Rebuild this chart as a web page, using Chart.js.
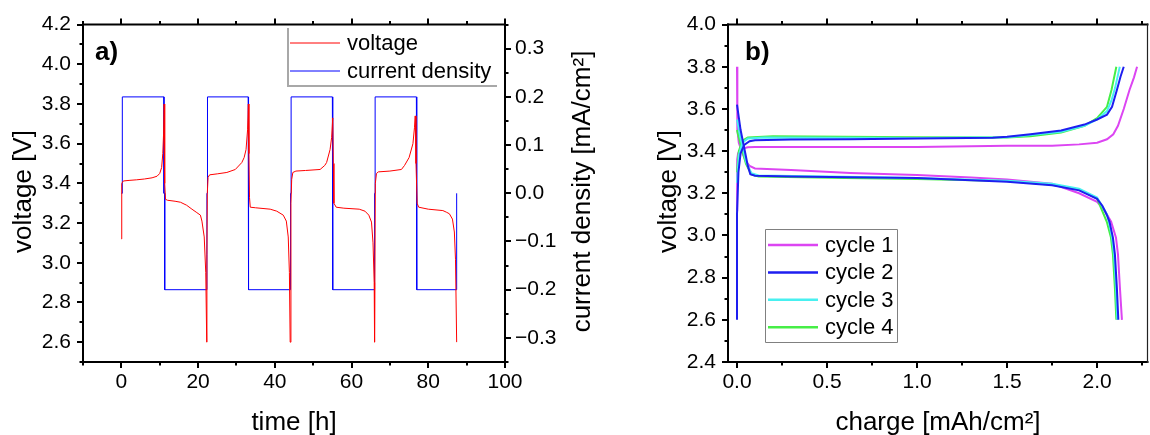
<!DOCTYPE html>
<html><head><meta charset="utf-8">
<script src="https://cdn.jsdelivr.net/npm/chart.js@4.4.1/dist/chart.umd.min.js"></script>
<style>
html,body{margin:0;padding:0;background:#fff;}
#wrap{position:relative;width:1150px;height:435px;overflow:hidden;background:#fff;}
canvas{position:absolute;top:0;}
#ca{left:0;width:600px;height:435px;}
#cb{left:600px;width:550px;height:435px;}
</style></head><body>
<div id="wrap"><canvas id="ca" width="600" height="435"></canvas><canvas id="cb" width="550" height="435"></canvas></div>
<script>
// ---------- Panel a data ----------
const timeTicks = [0, 20, 40, 60, 80, 100];
const voltageTicksA = [2.6, 2.8, 3.0, 3.2, 3.4, 3.6, 3.8, 4.0, 4.2];
const currentTicks = [-0.3, -0.2, -0.1, 0.0, 0.1, 0.2, 0.3];

const voltageTime = [
  0.0, 0.05, 0.15, 0.5, 2, 4, 6, 8, 9.3, 10.0, 10.5, 10.8, 11.0, 11.15,
  11.25, 11.35, 11.5, 12, 14, 15.4, 17, 18.4, 19.5, 20.6, 21.0, 21.6, 22.0, 22.25,
  22.3, 22.4, 22.6, 23, 25, 27.5, 29.7, 31.4, 32.0, 32.5, 32.9, 33.1,
  33.25, 33.4, 33.6, 35, 38.8, 40.5, 42.2, 43.0, 43.5, 43.8, 44.0,
  44.2, 44.4, 44.7, 45.5, 48, 51.8, 53.0, 53.5, 54.4, 54.8, 55.1,
  55.25, 55.4, 56, 58, 62, 63.5, 64.5, 65.2, 65.6, 65.9, 66.0,
  66.2, 66.5, 67, 70, 73, 73.8, 75, 76.0, 76.4, 76.6,
  76.8, 77.1, 77.5, 80, 83.8, 84.7, 85.5, 86.3, 86.8, 87.1, 87.4
];
const voltageValues = [
  3.12, 3.35, 3.40, 3.412, 3.415, 3.418, 3.422, 3.428, 3.436, 3.45, 3.48, 3.55, 3.65, 3.80,
  3.60, 3.40, 3.32, 3.315, 3.31, 3.305, 3.29, 3.27, 3.255, 3.24, 3.21, 3.13, 2.95, 2.60,
  3.04, 3.35, 3.43, 3.443, 3.448, 3.455, 3.47, 3.505, 3.53, 3.57, 3.67, 3.80,
  3.55, 3.33, 3.28, 3.277, 3.27, 3.26, 3.24, 3.21, 3.13, 2.95, 2.60,
  3.30, 3.42, 3.455, 3.462, 3.465, 3.47, 3.49, 3.505, 3.57, 3.63, 3.73,
  3.50, 3.30, 3.28, 3.275, 3.27, 3.26, 3.24, 3.205, 3.10, 2.90, 2.60,
  3.40, 3.45, 3.458, 3.462, 3.47, 3.49, 3.53, 3.60, 3.68, 3.74,
  3.50, 3.30, 3.28, 3.27, 3.263, 3.255, 3.247, 3.22, 3.155, 3.015, 2.60
];
const currentTime = [
  0, 0.25, 0.25, 11.1, 11.1, 11.3, 11.3, 22.3, 22.3, 22.45, 22.45,
  33.05, 33.05, 33.2, 33.2, 44.1, 44.1, 44.25, 44.25, 55.0, 55.0, 55.15, 55.15,
  66.0, 66.0, 66.15, 66.15, 76.9, 76.9, 77.05, 77.05, 87.4, 87.4
];
const currentValues = [
  0, 0, 0.2, 0.2, 0, 0, -0.2, -0.2, 0, 0, 0.2,
  0.2, 0, 0, -0.2, -0.2, 0, 0, 0.2, 0.2, 0, 0, -0.2,
  -0.2, 0, 0, 0.2, 0.2, 0, 0, -0.2, -0.2, 0
];
const legendA = ['voltage', 'current density'];

// ---------- Panel b data ----------
const chargeTicks = [0.0, 0.5, 1.0, 1.5, 2.0];
const voltageTicksB = [2.4, 2.6, 2.8, 3.0, 3.2, 3.4, 3.6, 3.8, 4.0];
const cycleLabels = ['cycle 1', 'cycle 2', 'cycle 3', 'cycle 4'];

const c1ChargeQ = [0, 0.001, 0.006, 0.02, 0.06, 0.1, 0.3, 0.6, 1.0, 1.5, 1.75, 1.9, 2.0, 2.055, 2.09, 2.116, 2.148, 2.18, 2.205, 2.222];
const c1ChargeV = [3.12, 3.36, 3.39, 3.41, 3.418, 3.42, 3.42, 3.42, 3.42, 3.425, 3.426, 3.432, 3.44, 3.456, 3.48, 3.52, 3.60, 3.69, 3.75, 3.80];
const c1DischargeQ = [0, 0.002, 0.01, 0.03, 0.05, 0.07, 0.1, 0.3, 0.63, 1.0, 1.3, 1.5, 1.75, 1.9, 2.0, 2.04, 2.078, 2.105, 2.116, 2.127, 2.138];
const c1DischargeV = [3.80, 3.50, 3.44, 3.39, 3.35, 3.33, 3.318, 3.31, 3.296, 3.287, 3.275, 3.265, 3.245, 3.20, 3.16, 3.12, 3.065, 2.99, 2.91, 2.75, 2.60];

const c2ChargeQ = [0, 0.0, 0.008, 0.02, 0.04, 0.07, 0.1, 0.3, 0.63, 1.0, 1.42, 1.5, 1.63, 1.8, 1.93, 2.0, 2.055, 2.083, 2.11, 2.13, 2.148];
const c2ChargeV = [2.60, 3.10, 3.30, 3.39, 3.43, 3.447, 3.452, 3.455, 3.456, 3.46, 3.464, 3.468, 3.48, 3.498, 3.526, 3.55, 3.573, 3.61, 3.69, 3.753, 3.80];
const c2DischargeQ = [0, 0.02, 0.046, 0.06, 0.074, 0.1, 0.3, 0.63, 1.0, 1.3, 1.5, 1.75, 1.9, 2.0, 2.03, 2.055, 2.069, 2.088, 2.099, 2.11, 2.118];
const c2DischargeV = [3.62, 3.50, 3.39, 3.33, 3.29, 3.283, 3.28, 3.276, 3.272, 3.262, 3.255, 3.238, 3.214, 3.174, 3.14, 3.096, 3.065, 2.99, 2.91, 2.75, 2.60];

const c3ChargeQ = [0, 0.01, 0.03, 0.06, 0.15, 0.6, 1.0, 1.5, 1.63, 1.8, 1.93, 2.0, 2.055, 2.08, 2.1, 2.126];
const c3ChargeV = [3.25, 3.38, 3.44, 3.46, 3.465, 3.463, 3.462, 3.466, 3.476, 3.492, 3.52, 3.55, 3.59, 3.64, 3.70, 3.80];
const c3DischargeQ = [0, 0.02, 0.05, 0.08, 0.12, 0.6, 1.0, 1.5, 1.75, 1.9, 2.0, 2.055, 2.065, 2.083, 2.094, 2.105, 2.112];
const c3DischargeV = [3.55, 3.46, 3.35, 3.295, 3.285, 3.278, 3.272, 3.26, 3.245, 3.222, 3.18, 3.10, 3.065, 2.99, 2.91, 2.75, 2.60];

const c4ChargeQ = [0, 0.01, 0.03, 0.06, 0.2, 0.6, 1.0, 1.5, 1.63, 1.8, 1.93, 2.0, 2.055, 2.08, 2.107];
const c4ChargeV = [3.30, 3.40, 3.45, 3.465, 3.47, 3.468, 3.466, 3.465, 3.47, 3.488, 3.52, 3.556, 3.61, 3.69, 3.80];
const c4DischargeQ = [0, 0.02, 0.05, 0.08, 0.12, 0.6, 1.0, 1.5, 1.75, 1.9, 2.0, 2.054, 2.077, 2.088, 2.099, 2.107];
const c4DischargeV = [3.50, 3.43, 3.34, 3.29, 3.28, 3.272, 3.268, 3.258, 3.24, 3.218, 3.175, 3.065, 2.99, 2.91, 2.75, 2.60];

// ---------- helpers ----------
const FONT = "'Liberation Sans', Arial, Helvetica, sans-serif";
const pts = (xs, ys) => xs.map((x, i) => ({x: x, y: ys[i]}));
const fmt1 = v => (Math.abs(v) < 1e-9 ? '0.0' : (v < 0 ? '\u2212' + (-v).toFixed(1) : v.toFixed(1)));
const tickFont = {family: FONT, size: 21};

function axis(pos, min, max, ticks, fitSize, pad, extra) {
  return Object.assign({
    type: 'linear', position: pos, min: min, max: max,
    grid: {display: false, drawTicks: false},
    border: {display: false},
    ticks: {font: tickFont, color: '#000', padding: pad, maxRotation: 0, autoSkip: false, callback: fmt1},
    afterBuildTicks: s => { s.ticks = ticks.map(v => ({value: v})); },
    afterFit: s => { if (pos === 'left' || pos === 'right') s.width = fitSize; else s.height = fitSize; }
  }, extra || {});
}

const deco = {
  id: 'deco',
  afterDraw(chart, args, o) {
    const ctx = chart.ctx, a = chart.chartArea;
    ctx.save();
    ctx.lineCap = 'butt';
    // tick marks
    o.ticks.forEach(t => {
      const s = chart.scales[t.scale];
      const majors = s.ticks.map(k => k.value);
      const step = majors[1] - majors[0];
      const minors = [];
      for (let v = majors[0] - step / 2; v <= s.max + 1e-9; v += step) if (v >= s.min - 1e-9) minors.push(v);
      ctx.strokeStyle = '#000'; ctx.lineWidth = 2;
      const draw = (v, len) => {
        const p = Math.round(s.getPixelForValue(v)) + 0.0;
        ctx.beginPath();
        if (t.side === 'left') { ctx.moveTo(a.left, p); ctx.lineTo(a.left - len, p); }
        else if (t.side === 'right') { ctx.moveTo(a.right, p); ctx.lineTo(a.right + len, p); }
        else if (t.side === 'bottom') { ctx.moveTo(p, a.bottom); ctx.lineTo(p, a.bottom + len); }
        else { ctx.moveTo(p, a.top); ctx.lineTo(p, a.top - len); }
        ctx.stroke();
      };
      majors.forEach(v => draw(v, 6));
      minors.forEach(v => draw(v, 3.5));
    });
    // frame
    o.frame.forEach(f => {
      ctx.strokeStyle = f.color; ctx.lineWidth = f.w;
      ctx.beginPath();
      if (f.side === 'left') { ctx.moveTo(a.left, a.top - 1); ctx.lineTo(a.left, a.bottom + 1); }
      if (f.side === 'right') { ctx.moveTo(a.right, a.top - 1); ctx.lineTo(a.right, a.bottom + 1); }
      if (f.side === 'top') { ctx.moveTo(a.left - 1, a.top); ctx.lineTo(a.right + 1, a.top); }
      if (f.side === 'bottom') { ctx.moveTo(a.left - 1, a.bottom); ctx.lineTo(a.right + 1, a.bottom); }
      ctx.stroke();
    });
    // titles
    ctx.fillStyle = '#000';
    ctx.textBaseline = 'alphabetic';
    o.titles.forEach(tt => {
      ctx.save();
      ctx.font = (tt.bold ? 'bold ' : '') + tt.size + 'px ' + FONT;
      ctx.translate(tt.x, tt.y);
      if (tt.rot) ctx.rotate(-Math.PI / 2);
      ctx.textAlign = tt.align || 'center';
      ctx.fillText(tt.text, 0, 0);
      ctx.restore();
    });
    // legend
    const L = o.legend;
    ctx.strokeStyle = L.border; ctx.lineWidth = L.bw;
    ctx.beginPath();
    L.borderPath.forEach((p, i) => i ? ctx.lineTo(p[0], p[1]) : ctx.moveTo(p[0], p[1]));
    ctx.stroke();
    ctx.font = L.size + 'px ' + FONT;
    ctx.textAlign = 'left'; ctx.textBaseline = 'middle';
    L.items.forEach((it, i) => {
      const y = L.y0 + i * L.dy;
      ctx.strokeStyle = it.color; ctx.lineWidth = L.lw;
      ctx.beginPath(); ctx.moveTo(L.x1, y); ctx.lineTo(L.x2, y); ctx.stroke();
      ctx.fillStyle = '#000';
      ctx.fillText(it.text, L.tx, y + 1);
    });
    ctx.restore();
  }
};

const common = {
  responsive: false, animation: false, devicePixelRatio: 1,
  elements: {point: {radius: 0, hoverRadius: 0}, line: {tension: 0, borderCapStyle: 'butt'}},
  events: []
};

// ---------- Panel a ----------
new Chart(document.getElementById('ca'), {
  type: 'line',
  data: {datasets: [
    {label: legendA[0], data: pts(voltageTime, voltageValues), borderColor: '#ff0000', borderWidth: 1, yAxisID: 'y', xAxisID: 'x'},
    {label: legendA[1], data: pts(currentTime, currentValues), borderColor: '#0000ff', borderWidth: 1, yAxisID: 'y2', xAxisID: 'x'}
  ]},
  options: Object.assign({}, common, {
    layout: {padding: {top: 21, left: 0, right: 0, bottom: 0}},
    scales: {
      x: axis('bottom', -10, 100, timeTicks, 73, 8, {ticks: {font: tickFont, color: '#000', padding: 8, maxRotation: 0, autoSkip: false, callback: v => String(v)}}),
      y: axis('left', 2.5, 4.2, voltageTicksA, 83, 12),
      y2: axis('right', -0.35, 0.35, currentTicks, 95, 10)
    },
    plugins: {
      legend: {display: false}, tooltip: {enabled: false},
      deco: {
        ticks: [{scale: 'x', side: 'bottom'}, {scale: 'x', side: 'top'}, {scale: 'y', side: 'left'}, {scale: 'y2', side: 'right'}],
        frame: [{side: 'left', color: '#000', w: 2}, {side: 'right', color: '#000', w: 2}, {side: 'top', color: '#000', w: 2}, {side: 'bottom', color: '#000', w: 2}],
        titles: [
          {text: 'time [h]', x: 294, y: 430, size: 26},
          {text: 'voltage [V]', x: 30.5, y: 191.5, size: 26, rot: true},
          {text: 'current density [mA/cm\u00b2]', x: 590, y: 191.5, size: 26, rot: true},
          {text: 'a)', x: 95, y: 60, size: 26, bold: true, align: 'left'}
        ],
        legend: {
          border: '#a8a8a8', bw: 2,
          borderPath: [[288, 28], [288, 86], [497, 86]],
          size: 22, x1: 290, x2: 340, tx: 347, y0: 43, dy: 28, lw: 1,
          items: [{text: legendA[0], color: '#ff0000'}, {text: legendA[1], color: '#0000ff'}]
        }
      }
    }
  }),
  plugins: [deco]
});

// ---------- Panel b ----------
const cycColors = ['#dc45f2', '#1e1ef0', '#48f0f0', '#46ee46'];
const cyc = [
  [c1ChargeQ, c1ChargeV, c1DischargeQ, c1DischargeV, 3],
  [c2ChargeQ, c2ChargeV, c2DischargeQ, c2DischargeV, 0],
  [c3ChargeQ, c3ChargeV, c3DischargeQ, c3DischargeV, 1],
  [c4ChargeQ, c4ChargeV, c4DischargeQ, c4DischargeV, 2]
];
const dsB = [];
cyc.forEach((c, i) => {
  dsB.push({label: cycleLabels[i], data: pts(c[0], c[1]), borderColor: cycColors[i], borderWidth: 2, order: c[4]});
  dsB.push({label: cycleLabels[i] + ' discharge', data: pts(c[2], c[3]), borderColor: cycColors[i], borderWidth: 2, order: c[4]});
});

new Chart(document.getElementById('cb'), {
  type: 'line',
  data: {datasets: dsB},
  options: Object.assign({}, common, {
    layout: {padding: {top: 21, left: 0, right: 2.5, bottom: 0}},
    scales: {
      x: axis('bottom', -0.05, 2.28, chargeTicks, 73, 8),
      y: axis('left', 2.4, 4.0, voltageTicksB, 128, 12)
    },
    plugins: {
      legend: {display: false}, tooltip: {enabled: false},
      deco: {
        ticks: [{scale: 'x', side: 'bottom'}, {scale: 'x', side: 'top'}, {scale: 'y', side: 'left'}],
        frame: [{side: 'left', color: '#000', w: 2}, {side: 'top', color: '#000', w: 2}, {side: 'bottom', color: '#000', w: 2}, {side: 'right', color: '#222', w: 1.2}],
        titles: [
          {text: 'charge [mAh/cm\u00b2]', x: 338, y: 430, size: 26},
          {text: 'voltage [V]', x: 75.5, y: 191.5, size: 26, rot: true},
          {text: 'b)', x: 145, y: 60, size: 26, bold: true, align: 'left'}
        ],
        legend: {
          border: '#808080', bw: 1,
          borderPath: [[165.5, 229.5], [297.5, 229.5], [297.5, 342.5], [165.5, 342.5], [165.5, 229.5]],
          size: 22, x1: 168, x2: 218, tx: 225, y0: 245, dy: 27.4, lw: 2.5,
          items: cycleLabels.map((t, i) => ({text: t, color: cycColors[i]}))
        }
      }
    }
  }),
  plugins: [deco]
});
</script>
</body></html>
